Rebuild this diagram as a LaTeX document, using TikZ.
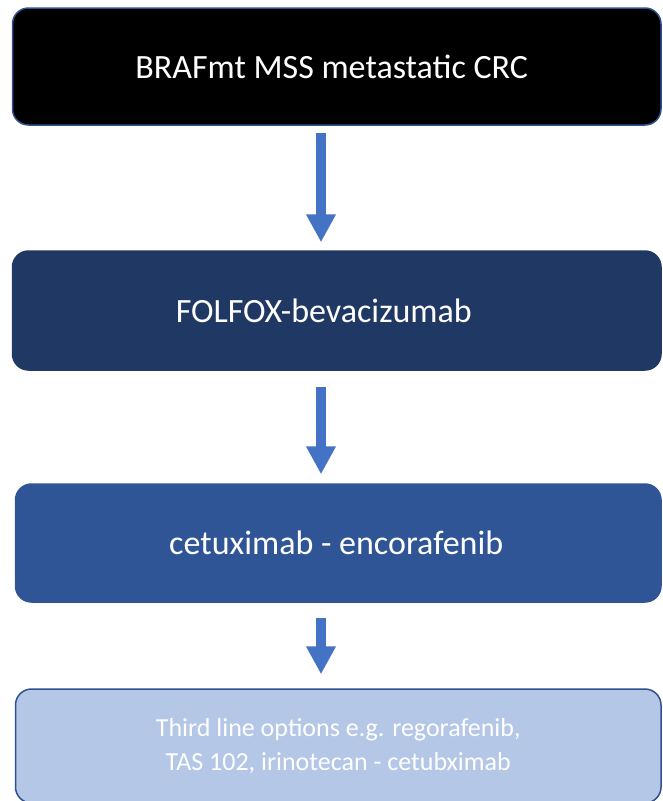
\documentclass[tikz,border=0pt]{standalone}
\usepackage{fontspec}
\setmainfont{Carlito}
\usetikzlibrary{arrows.meta}
\definecolor{bordblue}{HTML}{2F528F}
\definecolor{navyfill}{HTML}{203864}
\definecolor{midfill}{HTML}{2F5597}
\definecolor{lightfill}{HTML}{B4C7E7}
\definecolor{arrowblue}{HTML}{4472C4}
\begin{document}
\begin{tikzpicture}[x=1pt,y=-1pt,
  box/.style={rounded corners=16pt, align=center, text=white, inner sep=0pt, line width=1.5pt},
  bigtext/.style={font=\fontsize{34}{40}\selectfont},
  smalltext/.style={font=\fontsize{26}{33.4}\selectfont},
  blockarrow/.style={draw=arrowblue, line width=10pt, line cap=butt,
    -{Triangle[length=28pt 0 0, width=28pt 0 0, fill=arrowblue]}}]
\useasboundingbox (0,0) rectangle (663,801);
\node[box, bigtext, fill=black, draw=bordblue, minimum width=648.5pt, minimum height=117pt] (b1) at (336.75,66.5) {BRAFmt MSS metastatic CRC\hspace*{10pt}};
\node[box, bigtext, fill=navyfill, draw=navyfill, minimum width=648.5pt, minimum height=119pt] (b2) at (336.75,310.5) {FOLFOX-bevacizumab\hspace*{26pt}};
\node[box, bigtext, fill=midfill, draw=midfill, minimum width=645.5pt, minimum height=118pt] (b3) at (338.25,543) {cetuximab - encorafenib\hspace*{4pt}};
\node[box, smalltext, fill=lightfill, draw=bordblue, minimum width=645.5pt, minimum height=114pt] (b4) at (338.25,746) {Third line options e.g. regorafenib,\\TAS 102, irinotecan - cetubximab};
\draw[blockarrow] ([xshift=-15.75pt,yshift=-7pt]b1.south) -- ([xshift=-15.75pt,yshift=8pt]b2.north);
\draw[blockarrow] ([xshift=-15.75pt,yshift=-16pt]b2.south) -- ([xshift=-17.25pt,yshift=9pt]b3.north);
\draw[blockarrow] ([xshift=-17.25pt,yshift=-15pt]b3.south) -- ([xshift=-17.25pt,yshift=14pt]b4.north);
\end{tikzpicture}
\end{document}
